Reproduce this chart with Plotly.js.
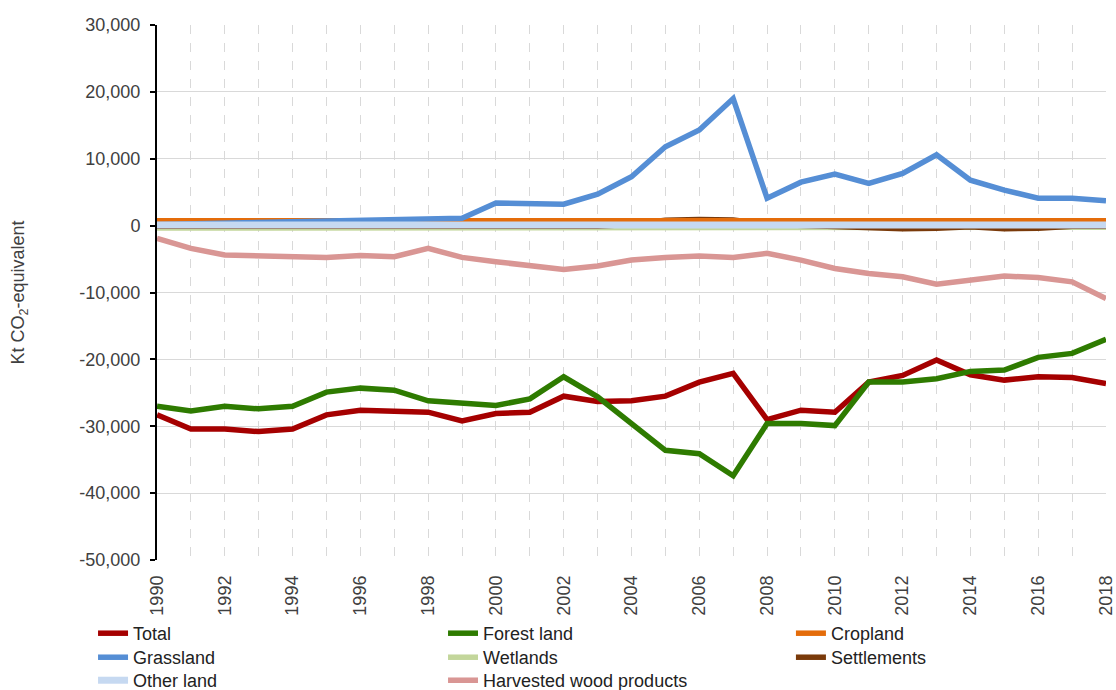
<!DOCTYPE html>
<html>
<head>
<meta charset="utf-8">
<script src="https://cdn.plot.ly/plotly-3.0.1.min.js"></script>
<style>html,body{margin:0;padding:0;background:#fff;}#chart{width:1116px;height:690px;}</style>
</head>
<body>
<div id="chart"></div>
<script>
const years = [1990,1991,1992,1993,1994,1995,1996,1997,1998,1999,2000,2001,2002,2003,2004,2005,2006,2007,2008,2009,2010,2011,2012,2013,2014,2015,2016,2017,2018];

const total = [-28300,-30400,-30400,-30800,-30400,-28300,-27600,-27800,-27900,-29200,-28100,-27900,-25500,-26300,-26200,-25500,-23400,-22100,-29000,-27600,-27900,-23400,-22400,-20100,-22300,-23100,-22600,-22700,-23600];
const forestLand = [-27000,-27700,-27000,-27400,-27000,-24900,-24300,-24600,-26200,-26500,-26900,-25900,-22600,-25600,-29600,-33600,-34100,-37400,-29600,-29600,-29900,-23400,-23400,-22900,-21800,-21600,-19700,-19100,-17000];
const cropland = [720,720,720,720,720,720,720,720,720,720,720,720,720,720,720,750,780,760,720,720,720,720,720,720,720,720,720,720,720];
const grassland = [150,250,350,500,550,700,850,900,1050,1100,3400,3300,3200,4700,7300,11800,14300,19000,4100,6500,7700,6300,7800,10600,6800,5300,4100,4100,3700];
const wetlands = [-350,-350,-350,-350,-350,-350,-350,-300,-250,-250,-250,-250,-250,-250,-250,-250,-250,-250,-250,-250,-250,-250,-250,-250,-250,-250,-250,-250,-250];
const settlements = [-100,-100,-100,-100,-100,-100,-100,-100,-100,-100,-100,-100,-100,-100,200,800,900,850,200,0,-200,-450,-450,-400,-150,-450,-400,-100,-100];
const otherLand = [100,100,100,100,100,100,100,100,100,100,100,100,100,100,100,100,100,100,100,100,100,100,100,100,100,100,100,100,100];
const harvestedWood = [-1900,-3400,-4400,-4550,-4600,-4750,-4450,-4650,-3400,-4750,-5400,-6000,-6550,-6050,-5150,-4750,-4550,-4750,-4150,-5150,-6400,-7150,-7650,-8750,-8150,-7550,-7750,-8400,-10900];

const yTickVals = [-50000,-40000,-30000,-20000,-10000,0,10000,20000,30000];
const yTickText = ["-50,000","-40,000","-30,000","-20,000","-10,000","0","10,000","20,000","30,000"];

function tr(name, y, color, width, legend) {
  return {x: years, y: y, name: name, type: 'scatter', mode: 'lines',
          line: {color: color, width: width, shape: 'linear'}, legend: legend, hoverinfo: 'x+y+name'};
}

// legend slots: columns x (paper) and rows y (paper)
const colX = [-0.0674, 0.3014, 0.668];
const rowY = [-0.1028, -0.1477, -0.1907];

const data = [
  tr('Total', total, '#A50000', 5.5, 'legend'),
  tr('Forest land', forestLand, '#2E7B00', 5.5, 'legend2'),
  tr('Wetlands', wetlands, '#C3D69B', 5.5, 'legend5'),
  tr('Settlements', settlements, '#7A3A0A', 5.5, 'legend6'),
  tr('Cropland', cropland, '#E46C0A', 5.5, 'legend3'),
  tr('Grassland', grassland, '#558ED5', 5.5, 'legend4'),
  tr('Other land', otherLand, '#C6D9F1', 7, 'legend7'),
  tr('Harvested wood products', harvestedWood, '#D99694', 5.5, 'legend8')
];

const font = {family: '"Liberation Sans", Arial, sans-serif', size: 18, color: '#404040'};
const lfont = {family: '"Liberation Sans", Arial, sans-serif', size: 18, color: '#222'};

function leg(c, r) {
  return {orientation: 'v', x: colX[c], xanchor: 'left', y: rowY[r], yanchor: 'top',
          font: lfont, tracegroupgap: 0, itemwidth: 30, bgcolor: 'rgba(0,0,0,0)'};
}

const layout = {
  width: 1116, height: 690,
  margin: {l: 157, r: 10, t: 25, b: 130, autoexpand: false},
  paper_bgcolor: '#fff', plot_bgcolor: '#fff',
  font: font,
  showlegend: true,
  legend: leg(0, 0), legend2: leg(1, 0), legend3: leg(2, 0),
  legend4: leg(0, 1), legend5: leg(1, 1), legend6: leg(2, 1),
  legend7: leg(0, 2), legend8: leg(1, 2),
  xaxis: {
    type: 'linear', range: [1990, 2018], tick0: 1990, dtick: 2,
    tickangle: -90, ticks: '', showline: false, zeroline: false,
    showgrid: true, gridcolor: '#D9D9D9', griddash: 'dash', gridwidth: 1,
    minor: {dtick: 1, tick0: 1990, showgrid: true, gridcolor: '#D9D9D9', griddash: 'dash', gridwidth: 1},
    tickfont: font, automargin: false, ticklabelstandoff: 11
  },
  xaxis2: {
    type: 'linear', range: [1990, 2018], tick0: 1990, dtick: 1,
    overlaying: 'x', anchor: 'free', position: 0.622, side: 'bottom', layer: 'above traces',
    ticks: 'outside', ticklen: 2, tickwidth: 2, tickcolor: '#000',
    showticklabels: false, showgrid: false, showline: false, zeroline: false
  },
  yaxis: {
    range: [-50000, 30000], tickvals: yTickVals, ticktext: yTickText,
    showline: true, linecolor: '#000', linewidth: 2,
    ticks: 'outside', ticklen: 5, tickwidth: 2, tickcolor: '#000',
    showgrid: true, gridcolor: '#D9D9D9', gridwidth: 1, zeroline: false,
    tickfont: font, automargin: false, ticklabelstandoff: 6,
    title: {text: 'Kt CO<sub>2</sub>-equivalent', font: font, standoff: 50}
  }
};

Plotly.newPlot('chart', data, layout, {displayModeBar: false, staticPlot: true});
</script>
</body>
</html>
